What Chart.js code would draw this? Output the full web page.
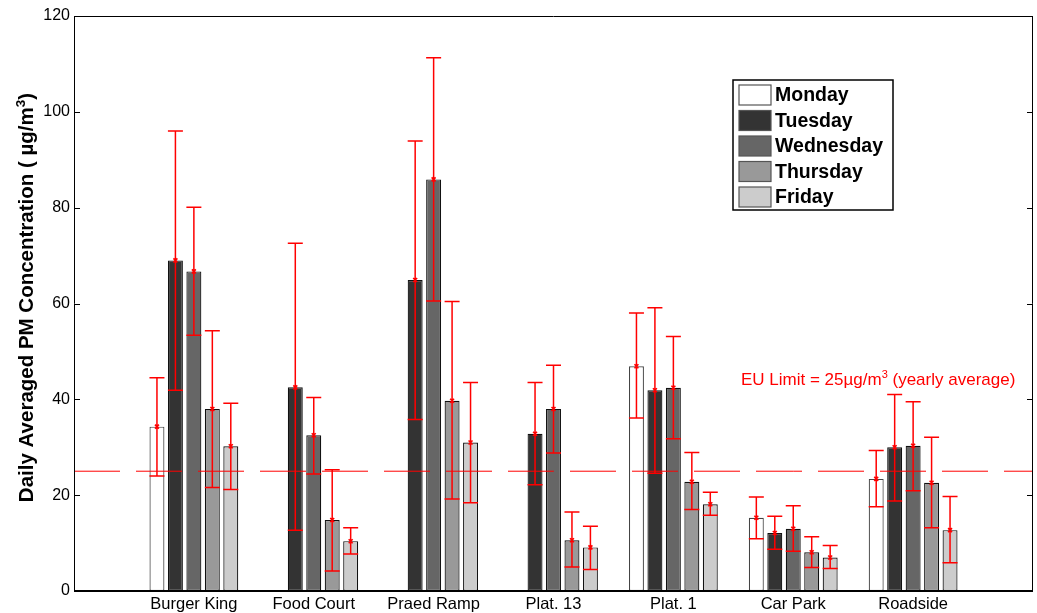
<!DOCTYPE html>
<html>
<head>
<meta charset="utf-8">
<script src="https://cdn.jsdelivr.net/npm/chart.js@4/dist/chart.umd.min.js"></script>
<style>
    html, body { margin: 0; padding: 0; background: #fff; }
    #wrap { width: 1037px; height: 613px; position: relative; }
</style>
</head>
<body>
<div id="wrap"><canvas id="pm-chart"></canvas></div>
<script>
// sites (x axis goes from 0 to 8, sites sit at 1..7)
const sites = ['Burger King', 'Food Court', 'Praed Ramp', 'Plat. 13', 'Plat. 1', 'Car Park', 'Roadside'];
const days = ['Monday', 'Tuesday', 'Wednesday', 'Thursday', 'Friday'];
const dayColors = ['#ffffff', '#333333', '#666666', '#999999', '#cccccc'];
const yTicks = [0, 20, 40, 60, 80, 100, 120];
const euLimit = 25;

// daily averaged PM concentration (ug/m3), with error bar bounds
const mondayMean = [34.3, null, null, null, 46.9, 15.3, 23.4];
const mondayLow = [24.0, null, null, null, 36.1, 10.9, 17.6];
const mondayHigh = [44.5, null, null, null, 58.0, 19.6, 29.3];

const tuesdayMean = [69.0, 42.5, 64.9, 32.8, 41.9, 12.1, 30.0];
const tuesdayLow = [41.9, 12.7, 35.8, 22.2, 24.6, 8.7, 18.8];
const tuesdayHigh = [96.0, 72.6, 93.9, 43.5, 59.1, 15.6, 41.0];

const wednesdayMean = [66.7, 32.5, 85.9, 38.0, 42.4, 13.0, 30.3];
const wednesdayLow = [53.4, 24.4, 60.5, 28.8, 31.8, 8.3, 20.9];
const wednesdayHigh = [80.1, 40.4, 111.3, 47.1, 53.1, 17.8, 39.5];

const thursdayMean = [38.0, 14.8, 39.7, 10.6, 22.8, 8.1, 22.6];
const thursdayLow = [21.6, 4.2, 19.2, 5.0, 17.0, 4.9, 13.2];
const thursdayHigh = [54.3, 25.3, 60.4, 16.5, 28.9, 11.3, 32.1];

const fridayMean = [30.2, 10.4, 31.0, 9.1, 18.1, 7.0, 12.7];
const fridayLow = [21.2, 7.7, 18.4, 4.5, 15.8, 4.7, 5.9];
const fridayHigh = [39.2, 13.2, 43.5, 13.5, 20.6, 9.5, 19.7];

const means = [mondayMean, tuesdayMean, wednesdayMean, thursdayMean, fridayMean];
const lows = [mondayLow, tuesdayLow, wednesdayLow, thursdayLow, fridayLow];
const highs = [mondayHigh, tuesdayHigh, wednesdayHigh, thursdayHigh, fridayHigh];

const FONT = "'Liberation Sans', Arial, Helvetica, sans-serif";
const pad = (arr) => [null, ...arr, null];
const labels = ['', ...sites, ''];

const barSets = days.map((day, i) => ({
    type: 'bar',
    label: day,
    data: pad(means[i]),
    low: pad(lows[i]),
    high: pad(highs[i]),
    backgroundColor: dayColors[i],
    borderColor: i === 0 ? '#444' : '#111',
    borderWidth: 1.2,
    borderSkipped: false,
    categoryPercentage: 0.77,
    barPercentage: 0.81,
    order: 2
}));

const limitSet = {
    type: 'line',
    label: 'EU Limit',
    data: labels.map(() => euLimit),
    borderColor: '#ff0000',
    borderWidth: 1,
    borderDash: [46, 16],
    pointRadius: 0,
    fill: false,
    order: 1
};

// text with a raised "3", left to right from x (in current ctx frame)
const drawSup = (ctx, parts, x, y, font, supFont, rise) => {
    parts.forEach(([txt, sup]) => {
        ctx.font = sup ? supFont : font;
        ctx.fillText(txt, x, sup ? y - rise : y);
        x += ctx.measureText(txt).width;
    });
};
const measureSup = (ctx, parts, font, supFont) => parts.reduce((w, [txt, sup]) => {
    ctx.font = sup ? supFont : font;
    return w + ctx.measureText(txt).width;
}, 0);

// error bars + frame + legend + texts, drawn on top of the datasets
const extras = {
    id: 'extras',
    afterDatasetsDraw: (chart) => {
        const ctx = chart.ctx;
        const y = chart.scales.y;
        ctx.save();
        ctx.strokeStyle = '#ff0000';
        ctx.lineWidth = 1.5;
        chart.data.datasets.forEach((ds, i) => {
            if (ds.type !== 'bar') return;
            const meta = chart.getDatasetMeta(i);
            meta.data.forEach((el, j) => {
                if (ds.data[j] == null) return;
                const x = el.x;
                const yHi = y.getPixelForValue(ds.high[j]);
                const yLo = y.getPixelForValue(ds.low[j]);
                const yM = y.getPixelForValue(ds.data[j]);
                ctx.beginPath();
                ctx.moveTo(x, yHi); ctx.lineTo(x, yLo);
                ctx.moveTo(x - 7.5, yHi); ctx.lineTo(x + 7.5, yHi);
                ctx.moveTo(x - 7.5, yLo); ctx.lineTo(x + 7.5, yLo);
                // little marker on the mean
                ctx.moveTo(x - 2, yM - 2); ctx.lineTo(x + 2, yM + 2);
                ctx.moveTo(x + 2, yM - 2); ctx.lineTo(x - 2, yM + 2);
                ctx.stroke();
            });
        });
        ctx.restore();
    },
    afterDraw: (chart) => {
        const ctx = chart.ctx;
        const a = chart.chartArea;
        const y = chart.scales.y;
        ctx.save();
        // box around the axes
        ctx.strokeStyle = '#000';
        ctx.lineWidth = 1;
        ctx.beginPath();
        ctx.moveTo(a.left + 0.5, a.bottom); ctx.lineTo(a.left + 0.5, a.top + 0.5);
        ctx.lineTo(a.right - 0.5, a.top + 0.5); ctx.lineTo(a.right - 0.5, a.bottom);
        // inward ticks, both sides
        yTicks.forEach(t => {
            const p = Math.round(y.getPixelForValue(t)) + 0.5;
            ctx.moveTo(a.left, p); ctx.lineTo(a.left + 6, p);
            ctx.moveTo(a.right, p); ctx.lineTo(a.right - 6, p);
        });
        ctx.stroke();
        ctx.lineWidth = 2;
        ctx.beginPath();
        ctx.moveTo(a.left, a.bottom); ctx.lineTo(a.right, a.bottom);
        ctx.stroke();

        // y axis title, rotated, with superscript
        const titleParts = [['Daily Averaged PM Concentration ( \u00b5g/m', false], ['3', true], [')', false]];
        const tFont = 'bold 20.5px ' + FONT, tSup = 'bold 13.5px ' + FONT;
        ctx.save();
        ctx.translate(33, (a.top + a.bottom) / 2 - 6);
        ctx.rotate(-Math.PI / 2);
        ctx.fillStyle = '#000';
        ctx.textAlign = 'left';
        ctx.textBaseline = 'alphabetic';
        const tw = measureSup(ctx, titleParts, tFont, tSup);
        drawSup(ctx, titleParts, -tw / 2, 0, tFont, tSup, 8);
        ctx.restore();

        // EU limit note
        ctx.fillStyle = '#ff0000';
        ctx.textBaseline = 'alphabetic';
        ctx.textAlign = 'left';
        drawSup(ctx, [['EU Limit = 25\u00b5g/m', false], ['3', true], [' (yearly average)', false]],
            741, 385, '17px ' + FONT, '11px ' + FONT, 7);

        // legend
        const lx = 733, ly = 80, lw = 160, lh = 130;
        ctx.fillStyle = '#fff';
        ctx.fillRect(lx, ly, lw, lh);
        ctx.strokeStyle = '#000';
        ctx.lineWidth = 1.5;
        ctx.strokeRect(lx, ly, lw, lh);
        ctx.font = 'bold 19.5px ' + FONT;
        ctx.textBaseline = 'middle';
        chart.data.datasets.filter(d => d.type === 'bar').forEach((d, i) => {
            const cy = ly + 15 + i * 25.5;
            ctx.fillStyle = d.backgroundColor;
            ctx.fillRect(739, cy - 10, 32, 20);
            ctx.strokeStyle = '#555';
            ctx.lineWidth = 1.2;
            ctx.strokeRect(739, cy - 10, 32, 20);
            ctx.fillStyle = '#000';
            ctx.fillText(d.label, 775, cy + 1);
        });
        ctx.restore();
    }
};

new Chart(document.getElementById('pm-chart').getContext('2d'), {
    data: {
        labels: labels,
        datasets: [...barSets, limitSet]
    },
    options: {
        responsive: true,
        maintainAspectRatio: false,
        animation: false,
        layout: { padding: { top: 16, right: 2, left: 0, bottom: 0 } },
        plugins: {
            legend: { display: false },
            tooltip: { enabled: false }
        },
        scales: {
            x: {
                type: 'category',
                offset: false,
                grid: { display: false, drawTicks: false },
                border: { display: false },
                ticks: {
                    color: '#000',
                    font: { family: FONT, size: 16.5 },
                    padding: 4,
                    maxRotation: 0,
                    autoSkip: false
                },
                afterFit: (s) => { s.height = 22; }
            },
            y: {
                min: 0,
                max: 120,
                afterBuildTicks: (s) => { s.ticks = yTicks.map(v => ({ value: v })); },
                grid: { display: false, drawTicks: false },
                border: { display: false },
                ticks: {
                    color: '#000',
                    font: { family: FONT, size: 16 },
                    padding: 4
                },
                afterFit: (s) => { s.width = 74; }
            }
        }
    },
    plugins: [extras]
});
</script>
</body>
</html>
